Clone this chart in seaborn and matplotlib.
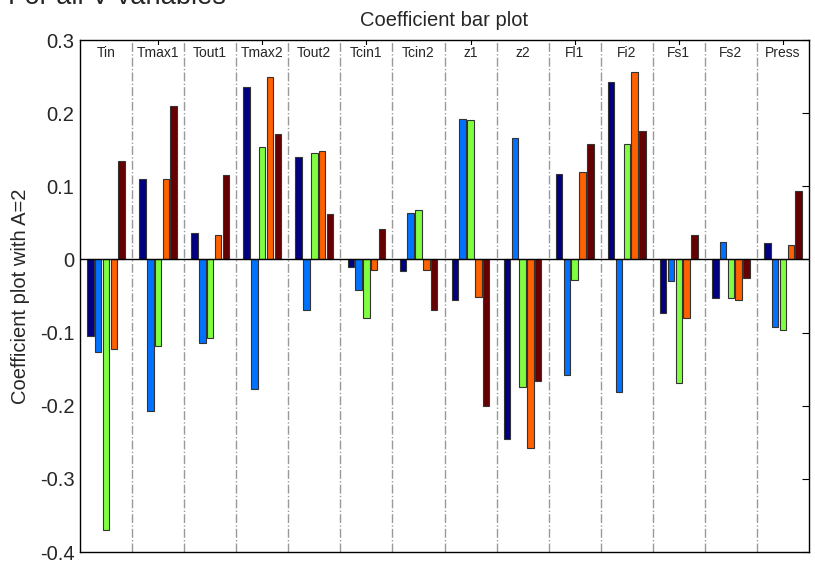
import matplotlib
matplotlib.use("Agg")
import matplotlib.pyplot as plt
import seaborn as sns
import pandas as pd

categories = ["Tin", "Tmax1", "Tout1", "Tmax2", "Tout2", "Tcin1", "Tcin2",
              "z1", "z2", "Fl1", "Fi2", "Fs1", "Fs2", "Press"]
series_names = ["S1", "S2", "S3", "S4", "S5"]
s1 = [-0.105, 0.110, 0.036, 0.236, 0.140, -0.011, -0.016, -0.056, -0.245, 0.117, 0.242, -0.073, -0.053, 0.022]
s2 = [-0.126, -0.207, -0.114, -0.177, -0.069, -0.042, 0.064, 0.192, 0.166, -0.158, -0.181, -0.030, 0.024, -0.092]
s3 = [-0.370, -0.119, -0.107, 0.154, 0.145, -0.080, 0.068, 0.190, -0.175, -0.028, 0.158, -0.169, -0.053, -0.097]
s4 = [-0.123, 0.110, 0.034, 0.250, 0.148, -0.014, -0.014, -0.051, -0.258, 0.120, 0.256, -0.080, -0.056, 0.020]
s5 = [0.135, 0.210, 0.115, 0.172, 0.062, 0.042, -0.069, -0.200, -0.166, 0.158, 0.176, 0.033, -0.026, 0.094]
colors = ["#000080", "#0072FF", "#80FF40", "#FF6000", "#660000"]
yticks = [-0.4, -0.3, -0.2, -0.1, 0, 0.1, 0.2, 0.3]
ytick_labels = ["-0.4", "-0.3", "-0.2", "-0.1", "0", "0.1", "0.2", "0.3"]

rows = []
for name, vals in zip(series_names, [s1, s2, s3, s4, s5]):
    for c, v in zip(categories, vals):
        rows.append({"var": c, "series": name, "value": v})
df = pd.DataFrame(rows)

sns.set_style("white")
plt.rcParams["font.family"] = ["Liberation Sans", "DejaVu Sans"]

fig = plt.figure(figsize=(8.15, 5.63), dpi=100)
ax = fig.add_axes([80 / 815, 11 / 563, 729 / 815, 512 / 563])

sns.barplot(data=df, x="var", y="value", hue="series", order=categories,
            hue_order=series_names, palette=colors, width=0.75, gap=0.17,
            edgecolor="#333333", linewidth=0.8, saturation=1, legend=False,
            errorbar=None, ax=ax, zorder=3)

ax.set_xlim(-0.5, len(categories) - 0.5)
ax.set_ylim(-0.4, 0.3)
ax.set_yticks(yticks)
ax.set_yticklabels(ytick_labels, fontsize=14.5)
ax.set_xticks(range(1, len(categories), 2))
ax.set_xticklabels([])
ax.set_xlabel("")
ax.set_ylabel("Coefficient plot with A=2", fontsize=14.5, labelpad=7)
ax.set_title("Coefficient bar plot", fontsize=14.5, pad=10)
ax.tick_params(direction="in", top=True, right=True, length=5, width=0.8,
               color="black", pad=4)

for i in range(len(categories) - 1):
    ax.axvline(i + 0.5, color="#999999", linestyle="-.", linewidth=1, zorder=1)
ax.axhline(0, color="black", linewidth=1, zorder=4)

for i, c in enumerate(categories):
    ax.text(i, 0.292, c, ha="center", va="top", fontsize=10, zorder=5,
            bbox=dict(facecolor="white", edgecolor="none", pad=0.5))

for s in ax.spines.values():
    s.set_color("black")
    s.set_linewidth(1)
    s.set_visible(True)

fig.text(8 / 815, 1 - 4 / 563, "For all V variables", fontsize=19.5,
         ha="left", va="baseline")

fig.savefig("out.png", dpi=100)
